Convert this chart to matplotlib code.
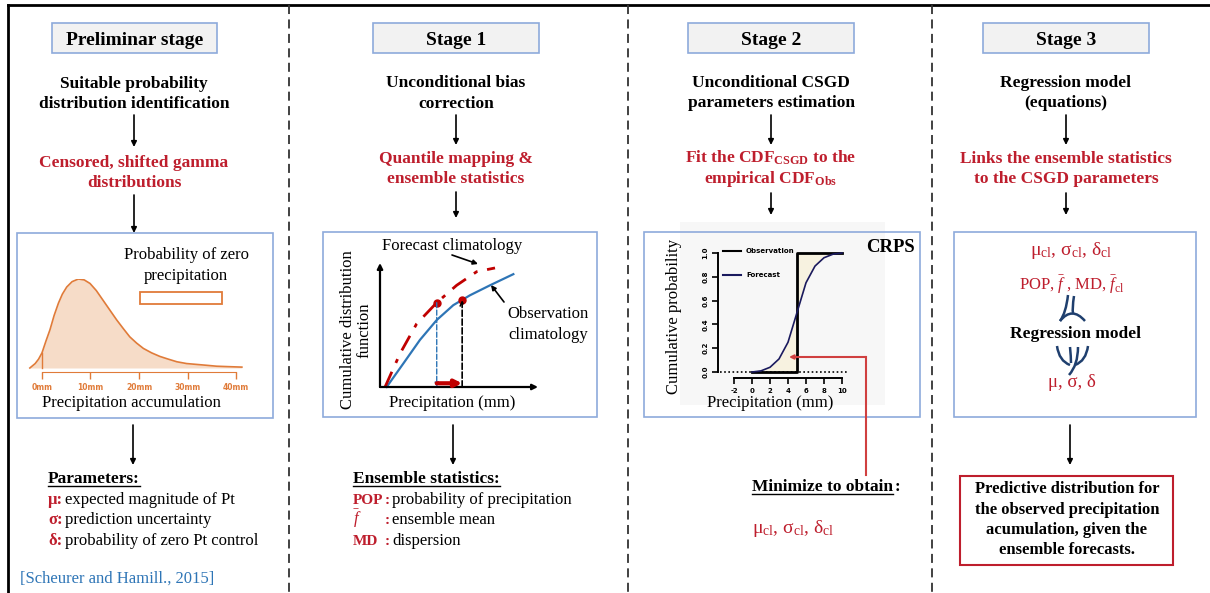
import matplotlib.pyplot as plt
from matplotlib.patches import Rectangle, PathPatch
from matplotlib.path import Path
from matplotlib.lines import Line2D

plt.rcParams['font.family'] = 'Liberation Serif'
plt.rcParams['mathtext.fontset'] = 'custom'
plt.rcParams['mathtext.rm'] = 'Liberation Serif'
plt.rcParams['mathtext.it'] = 'Liberation Serif:italic'
plt.rcParams['mathtext.bf'] = 'Liberation Serif:bold'

W, H = 1210, 593
RED = '#be1e2d'
BOX_EDGE = '#8eaadb'
ORANGE = '#e07b39'
NAVY = '#1f3f6e'

# ---- data ----
# preliminar stage: gamma density (mm, relative height)
gamma_mm = [-2.5, -1.4, -0.7, 0, 0.8, 1.65, 2.5, 3.4, 4.2, 5.1, 6.2, 7.5, 8.7, 9.9,
            11.2, 12.6, 14.0, 15.4, 16.8, 18.1, 19.5, 20.9, 22.6, 24.3, 26.0, 27.8,
            29.8, 31.9, 34.0, 36.0, 38.5, 41.2]
gamma_density = [0, 0.05, 0.10, 0.17, 0.30, 0.43, 0.59, 0.73, 0.83, 0.91, 0.97, 1.0,
                 0.99, 0.95, 0.87, 0.76, 0.65, 0.54, 0.44, 0.35, 0.28, 0.22, 0.17,
                 0.13, 0.10, 0.07, 0.05, 0.04, 0.03, 0.02, 0.015, 0.01]
gamma_ticks = [0, 10, 20, 30, 40]
gamma_labels = ['0mm', '10mm', '20mm', '30mm', '40mm']

# stage 1: forecast / observation climatology CDFs
obs_x = [0.42, 1.48, 2.53, 3.59, 4.64, 5.70, 6.96, 8.44]
obs_cdf = [0, 0.19, 0.38, 0.54, 0.66, 0.74, 0.82, 0.91]
fc_x = [0.32, 1.27, 2.32, 3.59, 4.85, 6.12, 7.28]
fc_cdf = [0, 0.27, 0.51, 0.68, 0.82, 0.93, 0.96]
qm_fc = (3.59, 0.68)
qm_obs = (5.2, 0.70)

# stage 2: CRPS example
crps_x = [0, 1, 2, 3, 4, 5, 6, 7, 8, 9, 10]
crps_forecast = [0, 0.01, 0.04, 0.11, 0.25, 0.5, 0.75, 0.89, 0.96, 0.99, 1.0]
obs_step_x = [0, 5, 5, 10]
obs_step_y = [0, 0, 1, 1]
crps_xticks = [-2, 0, 2, 4, 6, 8, 10]
crps_yticks = [0.0, 0.2, 0.4, 0.6, 0.8, 1.0]

fig = plt.figure(figsize=(W / 100, H / 100), dpi=100)
ax = fig.add_axes([0, 0, 1, 1])
ax.set_xlim(0, W)
ax.set_ylim(H, 0)
ax.axis('off')


def px_axes(x0, y0, x1, y1):
    return fig.add_axes([x0 / W, 1 - y1 / H, (x1 - x0) / W, (y1 - y0) / H])


def txt(x, y, s, size=12.5, color='black', weight='normal', ha='center', **kw):
    return ax.text(x, y, s, fontsize=size, color=color, fontweight=weight,
                   ha=ha, va='baseline', **kw)


def arrow(x, y0, y1):
    ax.annotate('', xy=(x, y1), xytext=(x, y0),
                arrowprops=dict(arrowstyle='-|>', color='black', lw=1.2,
                                mutation_scale=8, shrinkA=0, shrinkB=0))


def underline(t, y):
    fig.canvas.draw()
    bb = t.get_window_extent(fig.canvas.get_renderer())
    inv = ax.transData.inverted()
    x0 = inv.transform((bb.x0, bb.y0))[0]
    x1 = inv.transform((bb.x1, bb.y0))[0]
    ax.plot([x0, x1], [y, y], color='black', lw=1)


def box(x0, y0, x1, y1, fc='white', ec=BOX_EDGE, lw=1.2):
    ax.add_patch(Rectangle((x0, y0), x1 - x0, y1 - y0, facecolor=fc, edgecolor=ec, lw=lw))


# frame and separators
ax.plot([8, W], [5, 5], color='black', lw=2)
ax.plot([8, 8], [5, H], color='black', lw=2)
for xs in [289, 628, 932]:
    ax.plot([xs, xs], [5, H], color='#333333', lw=1.3, linestyle=(0, (5, 3)))

# stage titles
titles = ['Preliminar stage', 'Stage 1', 'Stage 2', 'Stage 3']
title_boxes = [(52, 217), (373, 539), (688, 854), (983, 1149)]
for t, (x0, x1) in zip(titles, title_boxes):
    box(x0, 23, x1, 53, fc='#f2f2f2')
    txt((x0 + x1) / 2, 45, t, size=14, weight='bold')

# ---------------- Preliminar stage ----------------
c0 = 134
txt(c0, 88, 'Suitable probability', weight='bold')
txt(c0, 108, 'distribution identification', weight='bold')
arrow(c0, 115, 147)
txt(c0, 167, 'Censored, shifted gamma', weight='bold', color=RED)
txt(c0, 187, 'distributions', weight='bold', color=RED)
arrow(c0, 195, 233)
box(17, 233, 273, 418)
txt(186, 259, 'Probability of zero', size=12)
txt(186, 280, 'precipitation', size=12)
ax.add_patch(Rectangle((140, 292), 82, 12, facecolor='white', edgecolor=ORANGE, lw=1.3))

gax = px_axes(25, 279, 250.6, 372)
gax.set_xlim(-3.5, 43)
gax.set_ylim(-0.045, 1.0)
gax.fill_between(gamma_mm, 0, gamma_density, color='#f6dcc8', lw=0)
gax.plot(gamma_mm, gamma_density, color=ORANGE, lw=1.2)
gax.plot([0, 0], [0, gamma_density[3]], color=ORANGE, lw=1)
gax.patch.set_visible(False)
for s in ['left', 'right', 'top']:
    gax.spines[s].set_visible(False)
gax.spines['bottom'].set_color(ORANGE)
gax.spines['bottom'].set_bounds(0, 40)
gax.set_yticks([])
gax.set_xticks(gamma_ticks)
gax.set_xticklabels(gamma_labels, fontsize=5.5, fontweight='bold', color=ORANGE,
                    family='DejaVu Sans')
gax.tick_params(axis='x', colors=ORANGE, length=5, width=1, pad=3)
txt(131, 407, 'Precipitation accumulation', size=12)

arrow(133, 425, 465)
t = txt(48, 483, 'Parameters:', weight='bold', ha='left')
underline(t, 486)
params = [('μ:', 'expected magnitude of Pt'),
          ('σ:', 'prediction uncertainty'),
          ('δ:', 'probability of zero Pt control')]
for i, (sym, desc) in enumerate(params):
    y = 504 + i * 20.5
    txt(48, y, sym, weight='bold', color=RED, ha='left', size=12)
    txt(65, y, desc, ha='left', size=12)
txt(20, 583, '[Scheurer and Hamill., 2015]', ha='left', size=12, color='#2e75b6')

# ---------------- Stage 1 ----------------
c1 = 456
txt(c1, 87, 'Unconditional bias', weight='bold')
txt(c1, 108, 'correction', weight='bold')
arrow(c1, 115, 145)
txt(c1, 163, 'Quantile mapping &', weight='bold', color=RED)
txt(c1, 183, 'ensemble statistics', weight='bold', color=RED)
arrow(c1, 192, 218)
box(323, 232, 597, 417)

qax = px_axes(380, 263, 538, 387)
qax.set_xlim(0, 10)
qax.set_ylim(0, 1)
qax.axis('off')
qax.annotate('', xy=(1.0, 0), xytext=(0, 0), xycoords='axes fraction',
             arrowprops=dict(arrowstyle='-|>', color='black', lw=1.6, mutation_scale=8,
                             shrinkA=0, shrinkB=0))
qax.annotate('', xy=(0, 1.0), xytext=(0, 0), xycoords='axes fraction',
             arrowprops=dict(arrowstyle='-|>', color='black', lw=1.6, mutation_scale=8,
                             shrinkA=0, shrinkB=0))
qax.plot(obs_x, obs_cdf, color='#2e75b6', lw=1.6)
qax.plot(fc_x, fc_cdf, color='#c00000', lw=2, linestyle=(0, (6, 3.5, 1.5, 3.5)))
qax.annotate('', xy=(qm_fc[0], 0), xytext=qm_fc,
             arrowprops=dict(arrowstyle='-|>', color='#2e75b6', lw=1, linestyle='--',
                             mutation_scale=6, shrinkA=0, shrinkB=0))
qax.annotate('', xy=qm_obs, xytext=(qm_obs[0], 0),
             arrowprops=dict(arrowstyle='->', color='black', lw=1.2, linestyle='--',
                             mutation_scale=7, shrinkA=0, shrinkB=0))
qax.annotate('', xy=(qm_obs[0], 0.03), xytext=(qm_fc[0], 0.03),
             arrowprops=dict(arrowstyle='-|>', color='#c00000', lw=3,
                             mutation_scale=10, shrinkA=0, shrinkB=0))
qax.plot([qm_fc[0], qm_obs[0]], [qm_fc[1], qm_obs[1]], 'o', color='#c00000', ms=5)
for a in qax.get_children():
    try:
        a.set_clip_on(False)
    except Exception:
        pass

txt(452, 250, 'Forecast climatology', size=12)
ax.annotate('', xy=(478, 264), xytext=(452, 255),
            arrowprops=dict(arrowstyle='-|>', color='black', lw=1.2, mutation_scale=7,
                            shrinkA=0, shrinkB=0))
txt(548, 318, 'Observation', size=12)
txt(548, 339, 'climatology', size=12)
ax.annotate('', xy=(491, 285), xytext=(504, 302),
            arrowprops=dict(arrowstyle='-|>', color='black', lw=1.2, mutation_scale=7,
                            shrinkA=0, shrinkB=0))
ax.text(356, 330, 'Cumulative distribution\nfunction', fontsize=12, rotation=90,
        ha='center', va='center', multialignment='center', linespacing=1.05)
txt(452, 407, 'Precipitation (mm)', size=12)

arrow(453, 425, 465)
t = txt(353, 483, 'Ensemble statistics:', weight='bold', ha='left')
underline(t, 486)
stats = [('POP', 'probability of precipitation'),
         (r'$\bar{f}$', 'ensemble mean'),
         ('MD', 'dispersion')]
for i, (sym, desc) in enumerate(stats):
    y = 504 + i * 20.5
    txt(353, y, sym, weight='bold', color=RED, ha='left', size=11 if i != 1 else 12)
    txt(385, y, ':', weight='bold', color=RED, ha='left', size=11)
    txt(392, y, desc, ha='left', size=12)

# ---------------- Stage 2 ----------------
c2 = 771
txt(c2, 87, 'Unconditional CSGD', weight='bold')
txt(c2, 107, 'parameters estimation', weight='bold')
arrow(c2, 115, 145)
txt(c2, 163, r'Fit the CDF$_{\mathbf{CSGD}}$ to the', weight='bold', color=RED)
txt(c2, 183, r'empirical CDF$_{\mathbf{Obs}}$', weight='bold', color=RED)
arrow(c2, 193, 215)
ax.add_patch(Rectangle((680, 222), 205, 183, facecolor='#f7f7f7', edgecolor='none'))
box(644, 232, 920, 417, fc='none')
txt(866, 252, 'CRPS', size=13.5, weight='bold', ha='left')

cax = px_axes(716.9, 249.4, 848.3, 378)
cax.set_xlim(-3.9, 10.7)
cax.set_ylim(-0.05, 1.03)
cax.patch.set_visible(False)
cax.fill_between(crps_x[:6], 0, crps_forecast[:6], color='#f7f2e0', lw=0)
cax.fill_between(crps_x[5:], crps_forecast[5:], 1, color='#f7f2e0', lw=0)
cax.plot([-3.6, 10.5], [0, 0], color='black', lw=1.2, linestyle=(0, (1, 1.5)))
cax.plot(obs_step_x, obs_step_y, color='black', lw=2)
cax.plot(crps_x, crps_forecast, color='#1a1a5e', lw=1.2)
cax.legend(handles=[Line2D([], [], color='black', lw=1.5, label='Observation'),
                    Line2D([], [], color='#1a1a5e', lw=1.5, label='Forecast')],
           loc='upper left', bbox_to_anchor=(0.0, 1.06), frameon=False,
           prop={'family': 'DejaVu Sans', 'weight': 'bold', 'size': 5},
           handlelength=2.5, labelspacing=2.6)
for s in ['right', 'top']:
    cax.spines[s].set_visible(False)
cax.spines['left'].set_position(('data', -3.75))
cax.spines['left'].set_bounds(0, 1)
cax.spines['left'].set_linewidth(1.4)
cax.spines['bottom'].set_bounds(-2, 10)
cax.spines['bottom'].set_linewidth(1.4)
cax.set_xticks(crps_xticks)
cax.set_xticklabels([str(v) for v in crps_xticks], fontsize=5, fontweight='bold',
                    family='DejaVu Sans')
cax.set_yticks(crps_yticks)
cax.set_yticklabels(['%.1f' % v for v in crps_yticks], fontsize=5, fontweight='bold',
                    family='DejaVu Sans', rotation=90, va='center')
cax.tick_params(length=4, width=1.2, pad=3)

ax.text(674, 316, 'Cumulative probability', fontsize=12, rotation=90,
        ha='center', va='center')
txt(770, 407, 'Precipitation (mm)', size=12)

# connector from CRPS area to "Minimize" (drawn on top of the CRPS panel)
cax.plot([866, 866], [475, 357], color='#d04040', lw=1.5, transform=ax.transData,
         clip_on=False)
cax.annotate('', xy=(789, 357), xytext=(866, 357), xycoords=ax.transData,
             textcoords=ax.transData, annotation_clip=False,
             arrowprops=dict(arrowstyle='-|>', color='#d04040', lw=1.5, mutation_scale=6,
                             shrinkA=0, shrinkB=0))
t = txt(752, 491, 'Minimize to obtain', weight='bold', ha='left')
underline(t, 494)
txt(895, 491, ':', weight='bold', ha='left')
txt(752, 533, r'μ$_{\mathrm{cl}}$, σ$_{\mathrm{cl}}$, δ$_{\mathrm{cl}}$', size=14,
    color=RED, ha='left')

# ---------------- Stage 3 ----------------
c3 = 1066
txt(c3, 87, 'Regression model', weight='bold')
txt(c3, 107, '(equations)', weight='bold')
arrow(c3, 115, 145)
txt(c3, 163, 'Links the ensemble statistics', weight='bold', color=RED)
txt(c3, 183, 'to the CSGD parameters', weight='bold', color=RED)
arrow(c3, 193, 215)
box(954, 232, 1196, 417)
txt(1071, 255, r'μ$_{\mathrm{cl}}$, σ$_{\mathrm{cl}}$, δ$_{\mathrm{cl}}$', size=14, color=RED)
txt(1072, 290, r'POP, $\bar{f}$ , MD, $\bar{f}_{\mathrm{cl}}$', size=12, color=RED)
txt(1075, 338, 'Regression model', weight='bold')
txt(1072, 387, 'μ, σ, δ', size=13.5, color=RED)

C3, M = Path.CURVE3, Path.MOVETO
strokes = [
    [(1068, 295), (1066, 313), (1060, 321)],
    [(1074, 296), (1072, 309), (1073, 313)],
    [(1060, 321), (1072, 306), (1085, 321)],
    [(1057, 346), (1059, 361), (1070, 365)],
    [(1088, 346), (1086, 361), (1075, 365)],
    [(1078, 347), (1078, 365), (1069, 375)],
    [(1070, 347), (1071, 357), (1071, 363)],
]
for pts in strokes:
    ax.add_patch(PathPatch(Path(pts, [M, C3, C3]), facecolor='none', edgecolor=NAVY, lw=1.8))

arrow(1070, 425, 465)
box(960, 476, 1173, 565, ec=RED, lw=1.5)
for i, line in enumerate(['Predictive distribution for',
                          'the observed precipitation',
                          'acumulation, given the',
                          'ensemble forecasts.']):
    txt(1067, 493 + i * 20.5, line, weight='bold', size=12)

fig.savefig('out.png', dpi=100)
